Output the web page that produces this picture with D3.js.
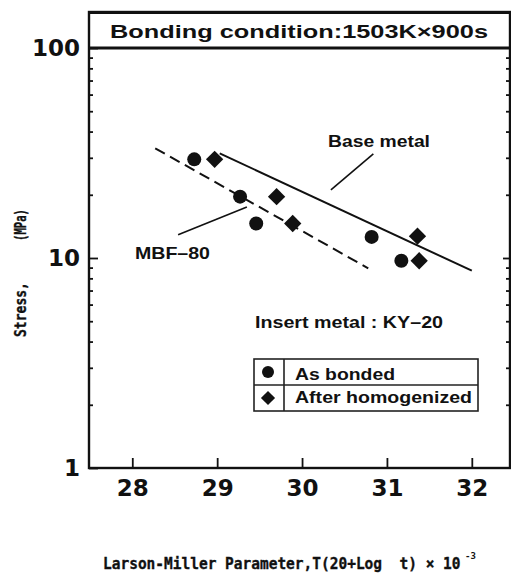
<!DOCTYPE html>
<html>
<head>
<meta charset="utf-8">
<script src="https://cdn.jsdelivr.net/npm/d3@7"></script>
<style>
  html, body { margin: 0; padding: 0; background: #fff; }
  svg { display: block; }
  text { fill: #111; }
</style>
</head>
<body>
<svg id="chart" width="511" height="576"></svg>
<script>
// ---------- data ----------
const xTickValues = [28, 29, 30, 31, 32];
const yTickValues = [1, 10, 100];
const yMinorTicks = [2,3,4,5,6,7,8,9,20,30,40,50,60,70,80,90];

// As bonded (circles)
const asBondedX = [28.73, 29.27, 29.46, 30.82, 31.17];
const asBondedY = [29.5, 19.6, 14.6, 12.6, 9.7];
// After homogenized (diamonds)
const afterHomX = [28.97, 29.70, 29.89, 31.36, 31.38];
const afterHomY = [29.5, 19.6, 14.6, 12.7, 9.7];

// Base metal line (solid)
const baseMetalX = [29.03, 32.0];
const baseMetalY = [31.5, 8.7];
// MBF-80 line (dashed)
const mbfX = [28.27, 30.78];
const mbfY = [33.3, 8.93];

// leader lines for labels
const baseLeaderX = [30.84, 30.34];
const baseLeaderY = [31.3, 21.1];
const mbfLeaderX = [29.35, 28.54];
const mbfLeaderY = [17.5, 12.9];

const titleText = "Bonding condition:1503K\u00D7900s";
const legendLabels = ["As bonded", "After homogenized"];

// ---------- layout ----------
const svg = d3.select("#chart");
const L = 89, R = 510, T = 48, B = 468, TOP = 12;

const x = d3.scaleLinear().domain([27.49, 32.45]).range([L, R]);
const y = d3.scaleLog().domain([1, 100]).range([B, T]);

const sans = "'Liberation Sans', Arial, sans-serif";
const dsans = "'DejaVu Sans', sans-serif";
const mono = "'DejaVu Sans Mono', monospace";

// ---------- axes ----------
function styleAxis(g) {
  g.select(".domain").remove();
  g.selectAll("line").attr("stroke", "#111").attr("stroke-width", 1.8);
}
// left major
svg.append("g").attr("transform", `translate(${L},0)`)
  .call(d3.axisLeft(y).tickValues(yTickValues).tickSize(-9).tickPadding(9).tickFormat(d3.format("d")))
  .call(styleAxis)
  .call(g => g.selectAll("text").attr("font-family", dsans).attr("font-weight", "bold")
    .attr("font-size", 23).attr("fill", "#111"));
// left minor
svg.append("g").attr("transform", `translate(${L},0)`)
  .call(d3.axisLeft(y).tickValues(yMinorTicks).tickSize(-4).tickFormat(""))
  .call(styleAxis);
// right major & minor
svg.append("g").attr("transform", `translate(${R},0)`)
  .call(d3.axisRight(y).tickValues([10]).tickSize(-7).tickFormat(""))
  .call(styleAxis);
svg.append("g").attr("transform", `translate(${R},0)`)
  .call(d3.axisRight(y).tickValues(yMinorTicks).tickSize(-4).tickFormat(""))
  .call(styleAxis);
// bottom
svg.append("g").attr("transform", `translate(0,${B})`)
  .call(d3.axisBottom(x).tickValues(xTickValues).tickSize(-10).tickPadding(12).tickFormat(d3.format("d")))
  .call(styleAxis)
  .call(g => g.selectAll("text").attr("font-family", dsans).attr("font-weight", "bold")
    .attr("font-size", 23).attr("fill", "#111"));

// frame
svg.append("rect").attr("x", L).attr("y", TOP).attr("width", R - L).attr("height", B - TOP)
  .attr("fill", "none").attr("stroke", "#111").attr("stroke-width", 2.4);
svg.append("line").attr("x1", L).attr("x2", R).attr("y1", T).attr("y2", T)
  .attr("stroke", "#111").attr("stroke-width", 3);
svg.append("line").attr("x1", L).attr("x2", R).attr("y1", TOP + 0.5).attr("y2", TOP + 0.5)
  .attr("stroke", "#111").attr("stroke-width", 3);

// title
svg.append("text").attr("x", 110).attr("y", 38)
  .attr("font-family", sans).attr("font-weight", "bold").attr("font-size", 19)
  .attr("textLength", 378).attr("lengthAdjust", "spacingAndGlyphs")
  .text(titleText);

// ---------- lines ----------
const line = d3.line().x(d => x(d[0])).y(d => y(d[1]));
svg.append("path").datum(d3.zip(baseMetalX, baseMetalY)).attr("d", line)
  .attr("fill", "none").attr("stroke", "#111").attr("stroke-width", 2);
svg.append("path").datum(d3.zip(mbfX, mbfY)).attr("d", line)
  .attr("fill", "none").attr("stroke", "#111").attr("stroke-width", 2)
  .attr("stroke-dasharray", "11,6");
svg.append("path").datum(d3.zip(baseLeaderX, baseLeaderY)).attr("d", line)
  .attr("fill", "none").attr("stroke", "#111").attr("stroke-width", 1.6);
svg.append("path").datum(d3.zip(mbfLeaderX, mbfLeaderY)).attr("d", line)
  .attr("fill", "none").attr("stroke", "#111").attr("stroke-width", 1.6);

// ---------- markers ----------
svg.append("g").selectAll("circle").data(d3.zip(asBondedX, asBondedY)).join("circle")
  .attr("cx", d => x(d[0])).attr("cy", d => y(d[1])).attr("r", 7).attr("fill", "#111");
const diamond = d3.symbol(d3.symbolSquare, 150);
svg.append("g").selectAll("path").data(d3.zip(afterHomX, afterHomY)).join("path")
  .attr("d", diamond)
  .attr("transform", d => `translate(${x(d[0])},${y(d[1])}) rotate(45)`)
  .attr("fill", "#111");

// ---------- annotations ----------
svg.append("text").attr("x", 328).attr("y", 147)
  .attr("font-family", sans).attr("font-weight", "bold").attr("font-size", 16)
  .attr("textLength", 102).attr("lengthAdjust", "spacingAndGlyphs").text("Base metal");
svg.append("text").attr("x", 135).attr("y", 259)
  .attr("font-family", sans).attr("font-weight", "bold").attr("font-size", 17)
  .attr("textLength", 75).attr("lengthAdjust", "spacingAndGlyphs").text("MBF\u201380");
svg.append("text").attr("x", 255).attr("y", 328)
  .attr("font-family", sans).attr("font-weight", "bold").attr("font-size", 16)
  .attr("textLength", 188).attr("lengthAdjust", "spacingAndGlyphs").text("Insert metal : KY\u201320");

// ---------- legend ----------
const lg = svg.append("g");
lg.append("rect").attr("x", 254).attr("y", 359).attr("width", 224).attr("height", 52)
  .attr("fill", "none").attr("stroke", "#222").attr("stroke-width", 1.6);
lg.append("line").attr("x1", 254).attr("x2", 478).attr("y1", 385).attr("y2", 385)
  .attr("stroke", "#222").attr("stroke-width", 1.6);
lg.append("line").attr("x1", 284).attr("x2", 284).attr("y1", 359).attr("y2", 411)
  .attr("stroke", "#222").attr("stroke-width", 1.6);
lg.append("circle").attr("cx", 268).attr("cy", 372).attr("r", 6).attr("fill", "#111");
lg.append("path").attr("d", d3.symbol(d3.symbolSquare, 100))
  .attr("transform", "translate(268,398) rotate(45)").attr("fill", "#111");
lg.append("text").attr("x", 295).attr("y", 380)
  .attr("font-family", sans).attr("font-weight", "bold").attr("font-size", 17)
  .attr("textLength", 100).attr("lengthAdjust", "spacingAndGlyphs").text(legendLabels[0]);
lg.append("text").attr("x", 295).attr("y", 403)
  .attr("font-family", sans).attr("font-weight", "bold").attr("font-size", 17)
  .attr("textLength", 177).attr("lengthAdjust", "spacingAndGlyphs").text(legendLabels[1]);

// ---------- axis titles ----------
// text scaled along its own direction with a transform
function scaledText(label, px, py, target, size, rot) {
  const t = svg.append("text")
    .attr("font-family", mono).attr("font-weight", "bold").attr("font-size", size)
    .attr("stroke", "#111").attr("stroke-width", 0.35)
    .text(label);
  const w = t.node().getComputedTextLength() || target;
  t.attr("transform", `translate(${px},${py}) rotate(${rot}) scale(${target / w},1)`);
  return t;
}
scaledText("Stress,", 26, 337, 55, 16, -90);
scaledText("(MPa)", 26, 241, 32, 16, -90);

scaledText("Larson-Miller Parameter,T(20+Log\u00A0\u00A0t)\u00A0\u00D7\u00A010", 103, 569, 358, 16, 0);
svg.append("text").attr("x", 465).attr("y", 559)
  .attr("font-family", mono).attr("font-weight", "bold").attr("font-size", 9)
  .text("-3");
</script>
</body>
</html>
